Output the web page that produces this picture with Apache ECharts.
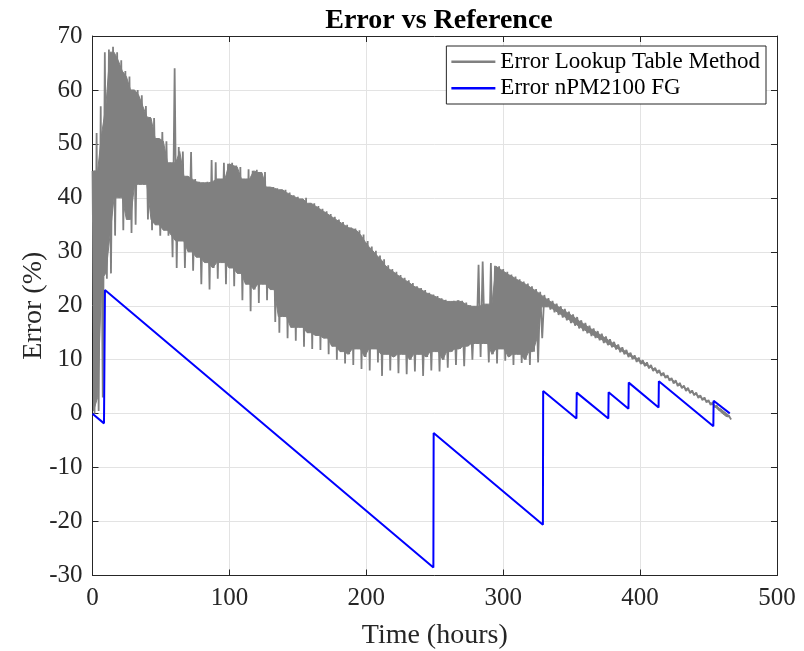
<!DOCTYPE html>
<html>
<head>
<meta charset="utf-8">
<script src="https://cdn.jsdelivr.net/npm/echarts@6/dist/echarts.min.js"></script>
<style>
  html, body { margin: 0; padding: 0; background: #fff; }
  #chart { width: 804px; height: 651px; }
</style>
</head>
<body>
<div id="chart"></div>
<script>
var myChart = echarts.init(document.getElementById('chart'));

// lookup-table error: read as upper / lower edge of the noisy band, every 3 hours from t=0
var grayStep = 3;
var grayHi = [45, 52, 57, 67, 67.5, 68, 67, 65.5, 63.5, 62.5,
              60, 60, 59, 57, 55, 54.8, 51, 52.2, 50.5, 46.5,
              64, 49.4, 48.6, 44, 48.5, 43.5, 43, 42.8, 43, 47,
              46.6, 43.5, 46.5, 46.3, 46.5, 46, 45.7, 43.5, 45.3, 45,
              45.2, 44.7, 44.8, 42, 42, 41.8, 41.5, 41.5, 41, 40.5,
              40.2, 39.8, 40, 39, 39, 38.5, 38, 37.5, 37, 36.5,
              36, 35.5, 35, 34.5, 34.3, 34, 33.2, 32, 31, 30.2,
              29.3, 28.6, 27.5, 26.8, 26.3, 25.7, 25.2, 24.7, 24.2, 23.6,
              23.3, 22.9, 22.4, 22.1, 21.8, 21.4, 21.1, 20.8, 20.9, 21,
              20.9, 20.6, 20.1, 19.9, 27.6, 28.2, 20.3, 27.9, 27.4, 27.3,
              26.8, 26.3, 25.8, 25.4, 24.9, 24.5, 24.1, 23.6, 23.1, 22.6,
              22, 21.4, 20.9, 20.4, 19.9, 19.4, 18.9, 18.4, 17.9, 17.3,
              16.8, 16.3, 15.8, 15.3, 14.8, 14.3, 13.8, 13.3, 12.8, 12.3,
              11.8, 11.3, 10.8, 10.4, 9.9, 9.5, 9.0, 8.5, 8.1, 7.6,
              7.1, 6.6, 6.2, 5.7, 5.2, 4.8, 4.3, 3.9, 3.4, 3.0,
              2.5, 2.1, 1.5, 0.8, 0.1, -0.5];
var grayLo = [0, 0.5, 3, 25, 26, 33, 40, 34, 36, 33.5,
              35, 42.5, 42.5, 36, 34, 35, 33, 34, 33, 29,
              27, 32, 27, 30, 26.5, 29, 24, 28, 23, 27,
              25, 28, 24, 27, 23.6, 26, 21, 24, 19, 23,
              20.5, 24, 21, 23, 17, 15, 18, 14, 16, 13.5,
              16, 12.4, 15, 12, 14.5, 11.8, 14, 11, 12.5, 10,
              11.5, 9.3, 11, 9, 12, 8.3, 10.5, 8, 12, 9.5,
              7, 11, 8, 10.5, 7.5, 11, 7.3, 10, 7.8, 11,
              7, 10.5, 8, 11.5, 7.8, 10, 8.5, 11.5, 9, 12,
              8.8, 12.5, 10, 13, 10.5, 13, 9.5, 11, 9.3, 12,
              9.8, 10.5, 9, 11, 9.4, 10, 9, 11.5, 9.5, 14,
              19.8, 19.3, 18.8, 18.3, 17.8, 17.3, 16.8, 16.3, 15.8, 15.3,
              14.9, 14.4, 14.0, 13.6, 13.1, 12.7, 12.3, 11.9, 11.4, 11.0,
              10.5, 10.1, 9.6, 9.2, 8.8, 8.4, 7.9, 7.5, 7.0, 6.6,
              6.1, 5.6, 5.1, 4.7, 4.2, 3.8, 3.4, 2.9, 2.5, 2.1,
              1.6, 1.2, 0.7, 0.1, -0.5, -1.1];

// nPM2100 fuel gauge error (corner points of the sawtooth)
var blueT = [0, 8.4, 9.1, 249, 249.2, 329, 329.2, 353.5, 353.7, 376.8, 377, 391.5, 391.7, 413.5, 413.7, 453.5, 453.7, 465.5];
var blueE = [0, -1.8, 22.9, -28.5, -3.6, -20.6, 4.2, -0.9, 3.9, -0.9, 3.95, 0.9, 5.75, 1.15, 6.0, -2.35, 2.4, 0.05];

var xTicks = [0, 100, 200, 300, 400, 500];
var yTicks = [-30, -20, -10, 0, 10, 20, 30, 40, 50, 60, 70];

// zigzag between the two edges so the band looks like the dense raw trace
var grayData = [];
for (var i = 0; i < grayHi.length; i++) {
    var t = i * grayStep;
    grayData.push([t, grayHi[i]]);
    grayData.push([t + grayStep / 2, grayLo[i]]);
}
var blueData = blueT.map(function (t, i) { return [t, blueE[i]]; });

// solid core of the band (spikes left to the zigzag line)
var n = grayHi.length;
var core = [];
for (var i = 0; i < n; i++) {
    var a = Math.max(0, i - 1), b = Math.min(n - 1, i + 1);
    core.push([i * grayStep + grayStep / 4,
               Math.min(grayHi[a], grayHi[i], grayHi[b]),
               Math.max(grayLo[a], grayLo[i], grayLo[b])]);
}

function renderBand(params, api) {
    var top = [], bot = [];
    for (var k = 0; k < core.length; k++) {
        top.push(api.coord([core[k][0], core[k][1]]));
        bot.unshift(api.coord([core[k][0], core[k][2]]));
    }
    return {
        type: 'polygon',
        shape: { points: top.concat(bot) },
        style: { fill: '#808080', stroke: '#808080', lineWidth: 1 }
    };
}

var serif = 'Liberation Serif, Times New Roman, serif';
var axisCol = '#262626';

function mainAxis(pos, min, max, step, name, gap, rot) {
    return {
        type: 'value', position: pos, min: min, max: max, interval: step,
        name: name, nameLocation: 'middle', nameGap: gap, nameRotate: rot,
        nameMoveOverlap: false,
        nameTextStyle: { fontFamily: serif, fontSize: 28, color: axisCol },
        axisLine: { show: true, onZero: false, lineStyle: { color: axisCol, width: 1 } },
        axisTick: { show: true, inside: true, length: 6, lineStyle: { color: axisCol } },
        axisLabel: { fontFamily: serif, fontSize: 25, color: axisCol, margin: 10 },
        splitLine: { show: true, lineStyle: { color: '#e3e3e3', width: 1 } }
    };
}
function boxAxis(pos, min, max, step) {
    return {
        type: 'value', position: pos, min: min, max: max, interval: step,
        axisLine: { show: true, onZero: false, lineStyle: { color: axisCol, width: 1 } },
        axisTick: { show: true, inside: true, length: 6, lineStyle: { color: axisCol } },
        axisLabel: { show: false },
        splitLine: { show: false }
    };
}

var option = {
    animation: false,
    backgroundColor: '#fff',
    title: {
        text: 'Error vs Reference',
        left: 434, top: 2, textAlign: 'center',
        textStyle: { fontFamily: serif, fontSize: 28, fontWeight: 'bold', color: '#000' }
    },
    grid: { left: 92.5, right: 27, top: 36, bottom: 75.5, outerBoundsMode: 'none' },
    legend: {
        orient: 'vertical', right: 38, top: 46,
        padding: [4, 6, 4, 5],
        backgroundColor: '#fff', borderColor: axisCol, borderWidth: 1,
        itemWidth: 44, itemHeight: 2.5, itemGap: 3,
        textStyle: { fontFamily: serif, fontSize: 23, color: '#000', lineHeight: 23.5 },
        data: [
            { name: 'Error Lookup Table Method', icon: 'rect' },
            { name: 'Error nPM2100 FG', icon: 'rect' }
        ]
    },
    xAxis: [
        mainAxis('bottom', xTicks[0], xTicks[xTicks.length - 1], 100, 'Time (hours)', 46, 0),
        boxAxis('top', xTicks[0], xTicks[xTicks.length - 1], 100)
    ],
    yAxis: [
        mainAxis('left', yTicks[0], yTicks[yTicks.length - 1], 10, 'Error (%)', 45, 90),
        boxAxis('right', yTicks[0], yTicks[yTicks.length - 1], 10)
    ],
    series: [{
        name: 'band',
        type: 'custom',
        renderItem: renderBand,
        data: [[0, 0]],
        silent: true,
        z: 1
    }, {
        name: 'Error Lookup Table Method',
        type: 'line',
        symbol: 'none',
        lineStyle: { color: '#808080', width: 1.8 },
        itemStyle: { color: '#808080' },
        z: 2,
        data: grayData
    }, {
        name: 'Error nPM2100 FG',
        type: 'line',
        symbol: 'none',
        lineStyle: { color: '#0000ff', width: 2 },
        itemStyle: { color: '#0000ff' },
        z: 3,
        data: blueData
    }]
};

myChart.setOption(option);
</script>
</body>
</html>
